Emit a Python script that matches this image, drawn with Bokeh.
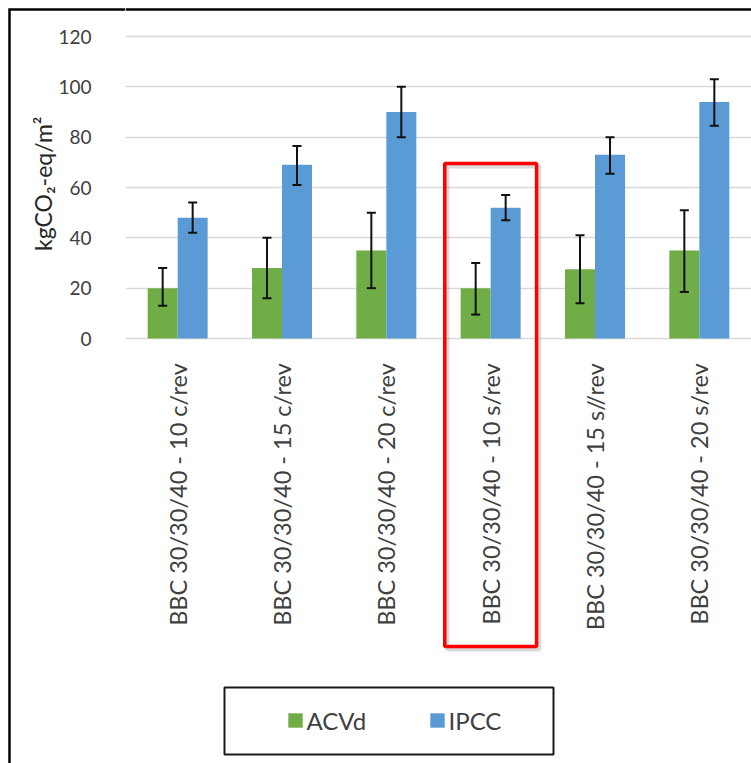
import math
from bokeh.plotting import figure
from bokeh.layouts import row
from bokeh.models import (ColumnDataSource, FactorRange, Range1d, Whisker, TeeHead, Grid, FixedTicker,
                          BoxAnnotation, Legend, LegendItem)
from bokeh.transform import dodge
from bokeh.core.properties import value
from bokeh.embed import file_html
from bokeh.resources import INLINE

# ---- data ----
categories = ["BBC 30/30/40 - 10 c/rev", "BBC 30/30/40 - 15 c/rev", "BBC 30/30/40 - 20 c/rev",
              "BBC 30/30/40 - 10 s/rev", "BBC 30/30/40 - 15 s//rev", "BBC 30/30/40 - 20 s/rev"]
acvd = [20, 28, 35, 20, 27.5, 35]
acvd_lower = [13, 16, 20, 9.5, 14, 18.5]
acvd_upper = [28, 40, 50, 30, 41, 51]
ipcc = [48, 69, 90, 52, 73, 94]
ipcc_lower = [42, 61, 80, 47, 65.5, 84.5]
ipcc_upper = [54, 76.5, 100, 57, 80, 103]
y_ticks = [0, 20, 40, 60, 80, 100, 120]
y_tick_labels = ["0", "20", "40", "60", "80", "100", "120"]
y_title = "kgCO\u2082-eq/m\u00b2"
series_names = ["ACVd", "IPCC"]
highlight = "BBC 30/30/40 - 10 s/rev"
highlight_top = 69.5

# ---- styles / layout constants ----
GREEN = "#70AD47"
BLUE = "#5B9BD5"
TXT = "#404040"
FONT = "Lato"
BW = 0.2875
W, H = 751, 763
LEFT_W = 125                      # width of the y-axis strip
PX_PER_UNIT = 302 / 120           # vertical scale
ZERO_Y = 338                      # canvas y of value 0
y_range = Range1d(-(H - ZERO_Y) / PX_PER_UNIT, ZERO_Y / PX_PER_UNIT)
BORDER_TOP = (ZERO_Y - 9) / PX_PER_UNIT   # outer chart border, 9 px from the top

src = ColumnDataSource(dict(cat=categories, acvd=acvd, acvd_lo=acvd_lower, acvd_hi=acvd_upper,
                            ipcc=ipcc, ipcc_lo=ipcc_lower, ipcc_hi=ipcc_upper))


def base_fig(width, x_range):
    f = figure(width=width, height=H, x_range=x_range, y_range=y_range,
               output_backend="svg", toolbar_location=None, title=None,
               x_axis_location=None, y_axis_location=None,
               min_border_left=0, min_border_right=0, min_border_top=0, min_border_bottom=0)
    f.outline_line_color = None
    f.background_fill_color = "white"
    f.border_fill_color = "white"
    f.grid.visible = False
    return f


# ---------- left strip: y axis labels ----------
pl = base_fig(LEFT_W, Range1d(0, LEFT_W))
pl.text(x=[91] * len(y_ticks), y=y_ticks, text=y_tick_labels, text_align="right", text_baseline="middle",
        text_font=value(FONT), text_font_size="19px", text_color=TXT)
pl.text(x=[42], y=[(y_ticks[0] + y_ticks[-1]) / 2 + 1.5], text=[y_title], angle=math.pi / 2,
        text_align="center", text_baseline="middle",
        text_font=value(FONT), text_font_size="23px", text_color="#262626")
# outer chart border (left + top edges)
pl.line(x=[LEFT_W, 9, 9], y=[BORDER_TOP, BORDER_TOP, y_range.start], line_color="#000000",
        line_width=2.5, line_join="miter")

# ---------- main chart ----------
p = base_fig(W - LEFT_W, FactorRange(factors=categories, range_padding=0))
p.add_layout(Grid(dimension=1, ticker=FixedTicker(ticks=y_ticks),
                  grid_line_color="#D9D9D9", grid_line_width=1.4))

r1 = p.vbar(x=dodge("cat", -BW / 2, range=p.x_range), top="acvd", width=BW, source=src,
            fill_color=GREEN, line_color=None)
r2 = p.vbar(x=dodge("cat", BW / 2, range=p.x_range), top="ipcc", width=BW, source=src,
            fill_color=BLUE, line_color=None)

for off, lo, hi in [(-BW / 2, "acvd_lo", "acvd_hi"), (BW / 2, "ipcc_lo", "ipcc_hi")]:
    p.add_layout(Whisker(source=src, base=dodge("cat", off, range=p.x_range), lower=lo, upper=hi,
                         line_color="#111111", line_width=2, level="annotation",
                         upper_head=TeeHead(size=9, line_width=2, line_color="#111111"),
                         lower_head=TeeHead(size=9, line_width=2, line_color="#111111")))

# category labels (rotated, reading upwards, ends aligned under the axis)
p.text(x="cat", y=-9.8, text="cat", source=src, angle=math.pi / 2, text_align="right",
       text_baseline="middle", text_font=value(FONT), text_font_size="23.5px", text_color=TXT)

# top edge of the outer chart border (continues the left strip's line)
p.line(x=[0, len(categories)], y=[BORDER_TOP, BORDER_TOP], line_color="#000000", line_width=2.5)

# highlight box around one category (with a soft shadow)
idx = categories.index(highlight)
p.add_layout(BoxAnnotation(left=idx + 0.085, right=idx + 0.965, top=highlight_top - 1.2, bottom=-123.6,
                           fill_color=None, line_color="#808080", line_width=4, line_alpha=0.3,
                           level="annotation"))
p.add_layout(BoxAnnotation(left=idx + 0.06, right=idx + 0.94, top=highlight_top, bottom=-122.4,
                           fill_color=None, line_color="#FF0000", line_width=3.5, line_alpha=1,
                           level="overlay"))

# legend frame + legend
p.add_layout(BoxAnnotation(left=224 - LEFT_W, right=553 - LEFT_W, top=687, bottom=754,
                           left_units="canvas", right_units="canvas", top_units="canvas",
                           bottom_units="canvas",
                           fill_color="white", fill_alpha=1, line_color="#1a1a1a", line_width=2,
                           line_alpha=1, level="annotation"))
legend = Legend(items=[LegendItem(label=series_names[0], renderers=[r1]),
                       LegendItem(label=series_names[1], renderers=[r2])],
                orientation="horizontal", location=(160.5, 28.5), padding=0, margin=0,
                spacing=10, glyph_width=18, glyph_height=18, label_width=111, label_height=18,
                label_standoff=3, label_text_font=FONT, label_text_font_size="24px",
                label_text_color=TXT, border_line_alpha=0, background_fill_alpha=0)
p.add_layout(legend)

layout = row(pl, p, spacing=0)
open("out.html", "w").write(file_html(layout, INLINE))
